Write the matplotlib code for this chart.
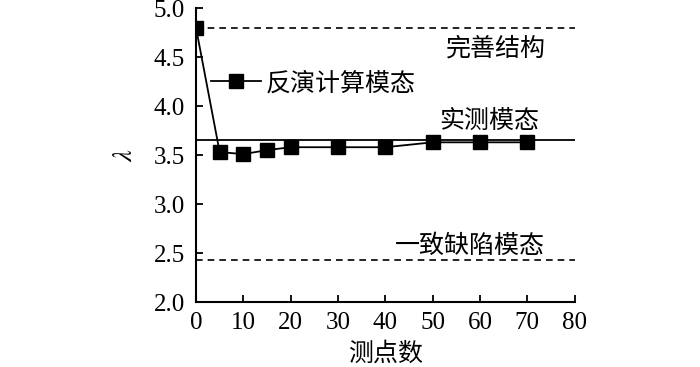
import matplotlib
matplotlib.use("Agg")
import matplotlib.pyplot as plt

plt.rcParams['font.family'] = ['Liberation Serif', 'Noto Sans CJK SC']
plt.rcParams['mathtext.fontset'] = 'stix'

points = [0, 5, 10, 15, 20, 30, 40, 50, 60, 70]
lam = [4.80, 3.53, 3.51, 3.55, 3.58, 3.58, 3.58, 3.63, 3.63, 3.63]
perfect = 4.80
measured = 3.65
defect = 2.43
xticks = [0, 10, 20, 30, 40, 50, 60, 70, 80]
yticks = [2.0, 2.5, 3.0, 3.5, 4.0, 4.5, 5.0]

fig = plt.figure(figsize=(7, 3.67), dpi=100)
ax = fig.add_axes([0.28, 0.177, 0.541, 0.801])

ax.axhline(perfect, color='black', ls=(0, (4, 3)), lw=1.2)
ax.axhline(measured, color='black', ls='-', lw=1.3)
ax.axhline(defect, color='black', ls=(0, (4, 3)), lw=1.2)
ax.plot(points, lam, color='black', lw=1.3, marker='s', ms=10, label='反演计算模态')

ax.set_xlim(0, 80)
ax.set_ylim(2.0, 5.0)
ax.set_xticks(xticks)
ax.set_yticks(yticks)
ax.set_yticklabels([f'{v:.1f}' for v in yticks])
ax.tick_params(direction='in', length=5, width=1.3, labelsize=18)
ax.tick_params(axis='x', pad=7)
ax.tick_params(axis='y', pad=8)
for s in ['top', 'right']:
    ax.spines[s].set_visible(False)
for s in ['left', 'bottom']:
    ax.spines[s].set_linewidth(1.5)

ax.set_xlabel('测点数', fontsize=18, labelpad=6)
ax.set_ylabel(r'$\lambda$', fontsize=19, labelpad=12)

ax.text(63.4, 4.58, '完善结构', fontsize=18, ha='center', va='center')
ax.text(62.0, 3.84, '实测模态', fontsize=18, ha='center', va='center')
ax.text(57.8, 2.57, '一致缺陷模态', fontsize=18, ha='center', va='center')

ax.legend(loc='upper left', bbox_to_anchor=(0.0, 0.835), frameon=False,
          fontsize=18, handlelength=2.0, handletextpad=0.2, borderaxespad=0.2)

fig.savefig('out.png', dpi=100)
